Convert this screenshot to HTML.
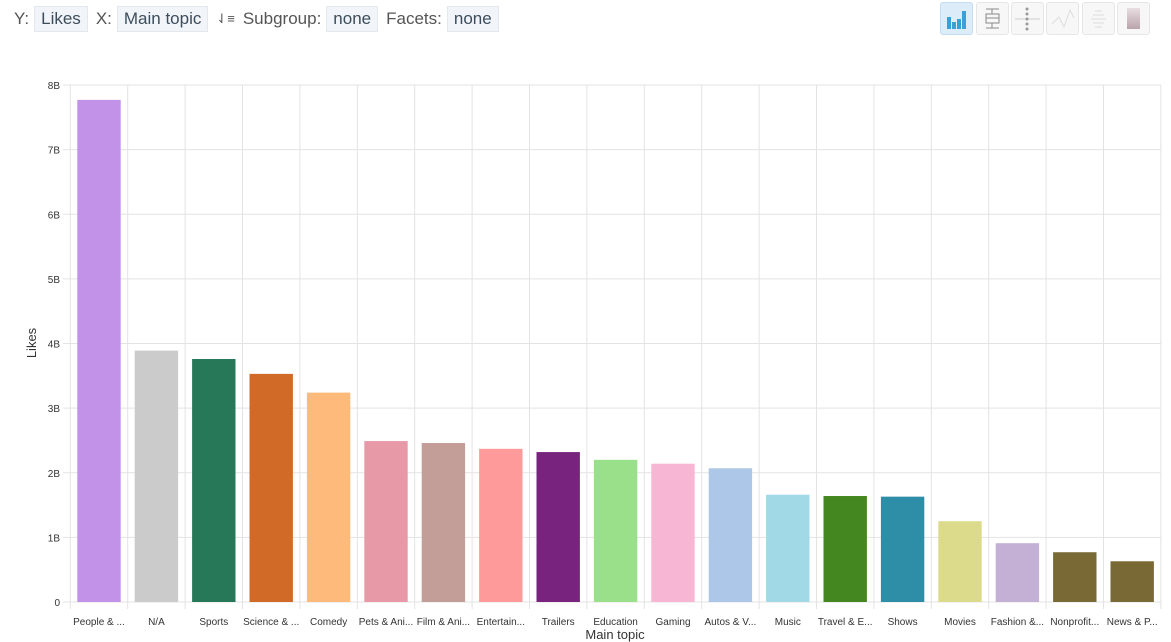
<!DOCTYPE html>
<html><head><meta charset="utf-8"><style>
body{margin:0;width:1171px;height:642px;background:#fff;font-family:"Liberation Sans",sans-serif;overflow:hidden;position:relative}
.tb{position:absolute;top:6px;left:14px;font-size:17px;color:#555;display:flex;align-items:center;gap:5px}
.pill{background:#f1f5f9;border:1px solid #e3e8ee;color:#3d4d5c;padding:2px 6px;margin-right:3px}
.ic{position:absolute;top:2px;width:31px;height:31px;border:1px solid #e6e6e6;border-radius:3px;background:#f7f7f7}
</style></head><body>
<div class="tb">
<span>Y:</span><span class="pill">Likes</span>
<span>X:</span><span class="pill">Main topic</span>
<span style="font-size:13px;margin-right:3px">⇃≡</span>
<span>Subgroup:</span><span class="pill">none</span>
<span>Facets:</span><span class="pill">none</span>
</div>
<div class="ic" style="left:940px;background:#dcecf8;border-color:#c5dcee">
<svg width="31" height="31"><rect x="6" y="14" width="4" height="12" fill="#3aa0d8"/><rect x="11" y="19" width="4" height="7" fill="#3aa0d8"/><rect x="16" y="16" width="4" height="10" fill="#3aa0d8"/><rect x="21" y="8" width="4" height="18" fill="#3aa0d8"/></svg></div>
<div class="ic" style="left:976px"><svg width="31" height="31" stroke="#888" fill="none"><path d="M9 6h13M15 6v5M9 11h13v9H9zM9 15h13M15 20v5M9 25h13"/></svg></div>
<div class="ic" style="left:1011px"><svg width="31" height="31"><path d="M3 16h25" stroke="#ccc"/><g fill="#999"><circle cx="15" cy="6" r="1.5"/><circle cx="15" cy="11" r="1.5"/><circle cx="15" cy="16" r="1.5"/><circle cx="15" cy="21" r="1.5"/><circle cx="15" cy="26" r="1.5"/></g></svg></div>
<div class="ic" style="left:1046px"><svg width="31" height="31"><path d="M5 21L12 14 17 24 23 7 27 15" stroke="#ddd" fill="none"/></svg></div>
<div class="ic" style="left:1082px"><svg width="31" height="31" stroke="#ddd"><path d="M12 8h7M10 12h11M8 16h15M10 20h11M12 24h7"/></svg></div>
<div class="ic" style="left:1117px"><svg width="31" height="31"><defs><linearGradient id="g" x1="0" y1="0" x2="0" y2="1"><stop offset="0" stop-color="#e8dde0"/><stop offset="1" stop-color="#b9a4ab"/></linearGradient></defs><rect x="9" y="5" width="13" height="21" fill="url(#g)"/></svg></div>
<svg id="chart" width="1171" height="642" style="position:absolute;left:0;top:0"></svg>
<script>
const categories=["People & ...","N/A","Sports","Science & ...","Comedy","Pets & Ani...","Film & Ani...","Entertain...","Trailers","Education","Gaming","Autos & V...","Music","Travel & E...","Shows","Movies","Fashion &...","Nonprofit...","News & P..."];
const values=[7.77,3.89,3.76,3.53,3.24,2.49,2.46,2.37,2.32,2.20,2.14,2.07,1.66,1.64,1.63,1.25,0.91,0.77,0.63];
const colors=["#c192e8","#cbcbcb","#277858","#d26a27","#feba7a","#e899a8","#c39e98","#fe9a99","#78247e","#9adf8a","#f7b6d3","#adc7e8","#a1d9e6","#448720","#2e8ea7","#dcdb8b","#c4afd5","#796934","#796934"];
const yTicks=[0,1,2,3,4,5,6,7,8];
const yTickLabels=["0","1B","2B","3B","4B","5B","6B","7B","8B"];
const svg=document.getElementById('chart');const NS='http://www.w3.org/2000/svg';
const x0=70.3,cw=57.4,y0=602,yTop=85,ymax=8;
const y=v=>y0-(v/ymax)*(y0-yTop);
const xb=i=>x0+i*cw;
function el(t,a,p){const e=document.createElementNS(NS,t);for(const k in a)e.setAttribute(k,a[k]);(p||svg).appendChild(e);return e;}
yTicks.forEach((t,i)=>{
 const l=el('line',{x1:63,x2:x0+categories.length*cw,y1:y(t),y2:y(t),stroke:'#e3e3e3'});
 
 
 const tx=el('text',{x:60,y:y(t)+4,'text-anchor':'end','font-size':10,fill:'#333'});tx.textContent=yTickLabels[i];
 
 
});
for(let i=0;i<=categories.length;i++){
 const l=el('line',{x1:xb(i),x2:xb(i),y1:yTop,y2:y0+7,stroke:'#e3e3e3'});
 
 
}
categories.forEach((c,i)=>{
 const r=el('rect',{x:xb(i)+7,width:cw-14,y:y(values[i]),height:y0-y(values[i]),fill:colors[i]});
 
 
 const t=el('text',{x:xb(i)+cw/2,y:625,'text-anchor':'middle','font-size':10,fill:'#333'});t.textContent=c;
 
 
});
const xt=el('text',{x:615,y:639,'text-anchor':'middle','font-size':13,fill:'#333'});xt.textContent='Main topic';


const yt=el('text',{x:0,y:0,'text-anchor':'middle','font-size':13,fill:'#333',transform:'translate(36,343) rotate(-90)'});yt.textContent='Likes';


</script>
</body></html>
